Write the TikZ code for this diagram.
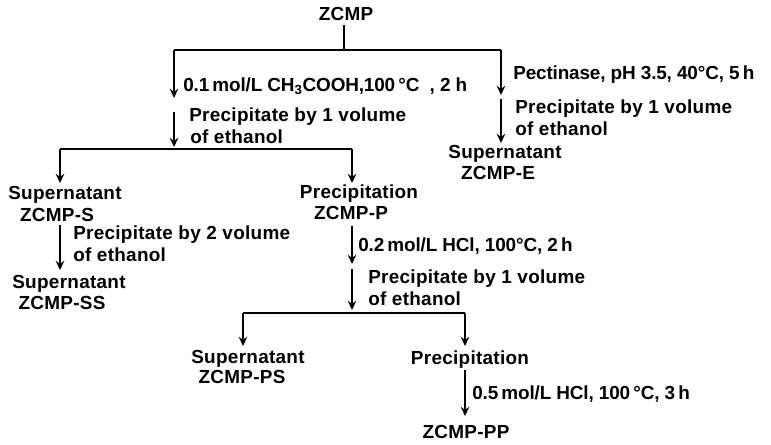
\documentclass[tikz,border=0pt]{standalone}
\usepackage{fontspec}
\setmainfont{Liberation Sans}[LetterSpace=1.5]
\usetikzlibrary{arrows.meta}
\tikzset{
  lbl/.style={inner sep=0pt, font=\fontsize{14.2pt}{16pt}\selectfont\bfseries, anchor=base west},
  cond/.style={lbl, font=\fontsize{14.2pt}{16pt}\selectfont\bfseries\addfontfeature{LetterSpace=-0.8}},
  ttl/.style={inner sep=0pt, font=\fontsize{14.2pt}{16pt}\selectfont\bfseries, anchor=base},
  ln/.style={line width=1.5pt},
  arr/.style={line width=1.5pt, -{Stealth[length=7pt,width=6.5pt,inset=2.5pt]}},
}
\begin{document}
\begin{tikzpicture}[x=0.75pt,y=-0.75pt]
\useasboundingbox (0,0) rectangle (771,445);
% top
\node[ttl] (zcmp) at (346,20.5) {ZCMP};
\coordinate (t0) at (344,25);
\coordinate (t1) at (344,50);
\coordinate (tl) at (174,50);
\coordinate (tr) at (501,50);
\draw[ln] (t0) -- (t1);
\draw[ln] (tl) -- (tr);
% left branch
\coordinate (la1) at (174,98);
\draw[arr] (tl) -- (la1);
\node[cond] (c1) at (183,91.5) {0.1\,mol/L CH\textsubscript{3}COOH,100\,°C \ , 2 h};
\coordinate (lb0) at (174,112);
\coordinate (lb1) at (174,147);
\draw[arr] (lb0) -- (lb1);
\node[lbl] (p1a) at (189,121.5) {Precipitate by 1 volume};
\node[lbl] (p1b) at (190,143.5) {of ethanol};
\coordinate (hl) at (60,149);
\coordinate (hr) at (352,149);
\draw[ln] (hl) -- (hr);
\coordinate (hle) at (60,183);
\coordinate (hre) at (352,183);
\draw[arr] (hl) -- (hle);
\draw[arr] (hr) -- (hre);
% supernatant S
\node[ttl] (s1) at (65,199.5) {Supernatant};
\node[ttl] (s2) at (57,221.5) {ZCMP-S};
\coordinate (sa0) at (60,225);
\coordinate (sa1) at (60,270);
\draw[arr] (sa0) -- (sa1);
\node[lbl] (p2a) at (73,239.5) {Precipitate by 2 volume};
\node[lbl] (p2b) at (73,261.5) {of ethanol};
\node[ttl] (ss1) at (69,288.5) {Supernatant};
\node[ttl] (ss2) at (62,309.5) {ZCMP-SS};
% precipitation P
\node[ttl] (pp1) at (359,198.5) {Precipitation};
\node[ttl] (pp2) at (351,219.5) {ZCMP-P};
\coordinate (pa0) at (352,226);
\coordinate (pa1) at (352,264);
\draw[arr] (pa0) -- (pa1);
\node[cond] (c2) at (358,251.5) {0.2\,mol/L HCl, 100°C, 2\,h};
\coordinate (pb0) at (352,269);
\coordinate (pb1) at (352,310);
\draw[arr] (pb0) -- (pb1);
\node[lbl] (p3a) at (368,283.5) {Precipitate by 1 volume};
\node[lbl] (p3b) at (368,305.5) {of ethanol};
\coordinate (gl) at (243,313);
\coordinate (gr) at (465,313);
\draw[ln] (gl) -- (gr);
\coordinate (gle) at (243,346);
\coordinate (gre) at (465,346);
\draw[arr] (gl) -- (gle);
\draw[arr] (gr) -- (gre);
\node[ttl] (ps1) at (248,363.5) {Supernatant};
\node[ttl] (ps2) at (242,383.5) {ZCMP-PS};
\node[ttl] (q1) at (470,364.5) {Precipitation};
\coordinate (qa0) at (465,370);
\coordinate (qa1) at (465,416);
\draw[arr] (qa0) -- (qa1);
\node[cond] (c3) at (472,399.5) {0.5\,mol/L HCl, 100\,°C, 3\,h};
\node[ttl] (q2) at (466,438.5) {ZCMP-PP};
% right branch
\coordinate (ra1) at (501,95);
\draw[arr] (tr) -- (ra1);
\node[cond] (c4) at (513,79.5) {Pectinase, pH 3.5, 40°C, 5\,h};
\coordinate (rb0) at (501,99);
\coordinate (rb1) at (501,143);
\draw[arr] (rb0) -- (rb1);
\node[lbl] (p4a) at (515,114) {Precipitate by 1 volume};
\node[lbl] (p4b) at (515,135.5) {of ethanol};
\node[ttl] (e1) at (505,158.5) {Supernatant};
\node[ttl] (e2) at (498,179.5) {ZCMP-E};
\end{tikzpicture}
\end{document}
